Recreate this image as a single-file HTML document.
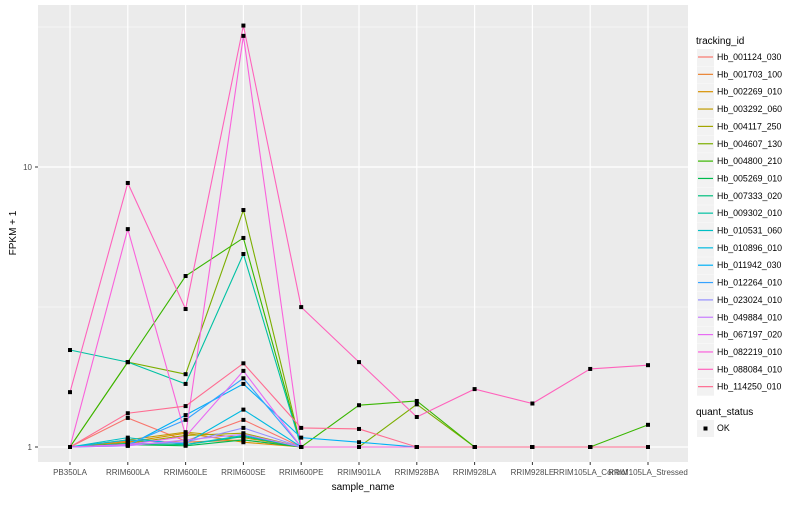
<!DOCTYPE html>
<html><head><meta charset="utf-8"><style>
body{margin:0;background:#fff;font-family:"Liberation Sans",sans-serif}
svg text{font-family:"Liberation Sans",sans-serif}
</style></head><body>
<svg id="chart" width="800" height="500" xmlns="http://www.w3.org/2000/svg">
<rect x="38" y="5" width="650" height="457" fill="#ebebeb"/>
<g id="grid"></g><g id="lines"></g><g id="points"></g><g id="axes"></g><g id="legend"></g>
</svg>
<script>
const categories=["PB350LA","RRIM600LA","RRIM600LE","RRIM600SE","RRIM600PE","RRIM901LA","RRIM928BA","RRIM928LA","RRIM928LE","RRIM105LA_Control","RRIM105LA_Stressed"];
const seriesNames=["Hb_001124_030","Hb_001703_100","Hb_002269_010","Hb_003292_060","Hb_004117_250","Hb_004607_130","Hb_004800_210","Hb_005269_010","Hb_007333_020","Hb_009302_010","Hb_010531_060","Hb_010896_010","Hb_011942_030","Hb_012264_010","Hb_023024_010","Hb_049884_010","Hb_067197_020","Hb_082219_010","Hb_088084_010","Hb_114250_010"];
const colors=["#F8766D","#EA8331","#D89000","#C09B00","#A3A500","#7CAE00","#39B600","#00BB4E","#00BF7D","#00C1A3","#00BFC4","#00BAE0","#00B0F6","#35A2FF","#9590FF","#C77CFF","#E76BF3","#FA62DB","#FF62BC","#FF6C91"];
const s0=[1,1.27,1.05,1.25,1,1,1,1,1,1,1];
const s1=[1,1.05,1.04,1.06,1,1,1,1,1,1,1];
const s2=[1,1.04,1.12,1.04,1,1,1,1,1,1,1];
const s3=[1,1.06,1.13,1.08,1,1,1,1,1,1,1];
const s4=[1,1.03,1.10,1.12,1,1,1,1,1,1,1];
const s5=[1,2.01,1.82,7.02,1,1,1.42,1,1,1,1];
const s6=[1,2.01,4.08,5.58,1,1.41,1.46,1,1,1,1.2];
const s7=[1,1.02,1.01,1.06,1,1,1,1,1,1,1];
const s8=[1,1.03,1.02,1.09,1,1,1,1,1,1,1];
const s9=[2.22,2.01,1.68,4.89,1,1,1,1,1,1,1];
const s10=[1,1.08,1.02,1.10,1,1,1,1,1,1,1];
const s11=[1,1.06,1.03,1.36,1,1,1,1,1,1,1];
const s12=[1,1.01,1.30,1.68,1.08,1.04,1,1,1,1,1];
const s13=[1,1.02,1.25,1.76,1,1,1,1,1,1,1];
const s14=[1,1.02,1.04,1.17,1,1,1,1,1,1,1];
const s15=[1,1.01,1.06,1.11,1,1,1,1,1,1,1];
const s16=[1,1.02,1.09,1.87,1,1,1,1,1,1,1];
const s17=[1,6.0,1.1,29.4,1,1,1,1,1,1,1];
const s18=[1.57,8.77,3.11,32,3.16,2.01,1.28,1.61,1.43,1.9,1.96];
const s19=[1,1.32,1.40,1.99,1.17,1.16,1,1,1,1,1];
const series=[s0,s1,s2,s3,s4,s5,s6,s7,s8,s9,s10,s11,s12,s13,s14,s15,s16,s17,s18,s19];
const NS="http://www.w3.org/2000/svg";
const xS=i=>70+i*57.8;
const yS=v=>447-280*Math.log10(v);
function mk(tag,attrs,parent,text){const e=document.createElementNS(NS,tag);for(const k in attrs)e.setAttribute(k,attrs[k]);if(text!=null)e.textContent=text;parent.appendChild(e);return e;}
const grid=document.getElementById('grid'),lines=document.getElementById('lines'),pts=document.getElementById('points'),axes=document.getElementById('axes'),leg=document.getElementById('legend');
[Math.sqrt(10),Math.sqrt(1000)].forEach(v=>{const l=mk('line',{x1:38,x2:688,y1:yS(v),y2:yS(v),stroke:'#fff','stroke-width':0.6},grid);});
[1,10].forEach(v=>{const l=mk('line',{x1:38,x2:688,y1:yS(v),y2:yS(v),stroke:'#fff','stroke-width':1.2},grid);
const t=mk('text',{x:32,y:yS(v)+3,'text-anchor':'end','font-size':8,fill:'#4d4d4d'},axes,String(v));
const tk=mk('line',{x1:35,x2:38,y1:yS(v),y2:yS(v),stroke:'#333'},axes);});
categories.forEach((c,i)=>{const l=mk('line',{x1:xS(i),x2:xS(i),y1:5,y2:462,stroke:'#fff','stroke-width':1.2},grid);
const tk=mk('line',{x1:xS(i),x2:xS(i),y1:462,y2:465,stroke:'#333'},axes);
const t=mk('text',{x:xS(i),y:475,'text-anchor':'middle','font-size':8,fill:'#4d4d4d'},axes,c);});
series.forEach((s,k)=>{const p=mk('polyline',{points:s.map((v,i)=>xS(i)+','+yS(v)).join(' '),fill:'none',stroke:colors[k],'stroke-width':1.1},lines);
s.forEach((v,i)=>{const r=mk('rect',{x:xS(i)-2,y:yS(v)-2,width:4,height:4,fill:'#000'},pts);});});
let t=mk('text',{x:363,y:490,'text-anchor':'middle','font-size':10,fill:'#000'},axes,'sample_name');
t=mk('text',{x:16,y:233,'text-anchor':'middle','font-size':10,fill:'#000',transform:'rotate(-90 16 233)'},axes,'FPKM + 1');
t=mk('text',{x:696,y:44,'font-size':10,fill:'#000'},leg,'tracking_id');
seriesNames.forEach((n,k)=>{const y=57+k*17.35;
const b=mk('rect',{x:697,y:y-8,width:17,height:17,fill:'#f2f2f2'},leg);
const l=mk('line',{x1:698,x2:713,y1:y,y2:y,stroke:colors[k],'stroke-width':1.2},leg);
const tx=mk('text',{x:717,y:y+3,'font-size':8.8,fill:'#000'},leg,n);});
t=mk('text',{x:696,y:415,'font-size':10,fill:'#000'},leg,'quant_status');
let b=mk('rect',{x:697,y:420,width:17,height:17,fill:'#f2f2f2'},leg);
b=mk('rect',{x:703.5,y:426.5,width:4,height:4,fill:'#000'},leg);
t=mk('text',{x:717,y:431,'font-size':8.8,fill:'#000'},leg,'OK');
</script>
</body></html>
